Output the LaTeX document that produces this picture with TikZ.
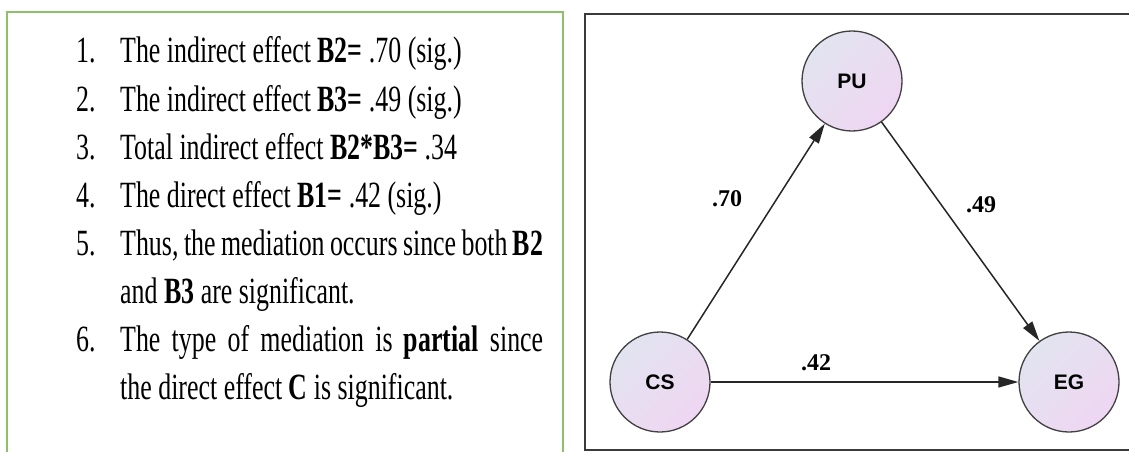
\documentclass[tikz,border=0pt]{standalone}
\usepackage{fontspec}
\setmainfont{Liberation Serif}
\newfontfamily\listfont[FakeStretch=0.70]{Liberation Serif}
\newfontfamily\labsans{Liberation Sans}
\usetikzlibrary{arrows.meta}
\definecolor{boxgreen}{HTML}{8CC06A}
\definecolor{boxgray}{HTML}{3A3A3A}
\definecolor{shadeA}{HTML}{E2E4F0}
\definecolor{shadeB}{HTML}{EFD6F2}
\tikzset{
  listnum/.style={anchor=base west, inner sep=0pt, font=\listfont\fontsize{37}{48}\selectfont},
  listtext/.style={anchor=base west, inner sep=0pt, font=\listfont\fontsize{37}{48}\selectfont},
  latent/.style={circle, draw=black!75, line width=1.3pt, minimum size=100pt, inner sep=0pt,
    shading=axis, top color=shadeA, bottom color=shadeB, shading angle=45,
    font=\labsans\bfseries\fontsize{21}{21}\selectfont},
  edge/.style={draw=black!85, line width=1.5pt, -{Triangle[length=20pt,width=11pt]}},
  coef/.style={inner sep=0pt, font=\bfseries\fontsize{24}{24}\selectfont}
}
\begin{document}
\begin{tikzpicture}[x=1pt,y=-1pt]
\useasboundingbox (0,0) rectangle (1129,452);
\clip (0,0) rectangle (1129,452);
% frames
\draw[boxgreen, line width=1.6pt] (7,470) -- (7,12) -- (563,12) -- (563,470);
\draw[boxgray, line width=1.8pt] (1140,14) -- (585,14) -- (585,450) -- (1140,450);
% list
\node[listnum] (n1) at (76,63) {1.};
\node[listtext] (t1) at (120,63) {The indirect effect \textbf{B2=} .70 (sig.)};
\node[listnum] (n2) at (76,111) {2.};
\node[listtext] (t2) at (120,111) {The indirect effect \textbf{B3=} .49 (sig.)};
\node[listnum] (n3) at (76,159) {3.};
\node[listtext] (t3) at (120,159) {Total indirect effect \textbf{B2*B3=} .34};
\node[listnum] (n4) at (76,207) {4.};
\node[listtext] (t4) at (120,207) {The direct effect \textbf{B1=} .42 (sig.)};
\node[listnum] (n5) at (76,255) {5.};
\node[listtext] (t5) at (120,255) {\makebox[423pt][s]{Thus, the mediation occurs since both \textbf{B2}}};
\node[listtext] (t5b) at (120,303) {and \textbf{B3} are significant.};
\node[listnum] (n6) at (76,351) {6.};
\node[listtext] (t6) at (120,351) {\makebox[423pt][s]{The type of mediation is \textbf{partial} since}};
\node[listtext] (t6b) at (120,399) {the direct effect \textbf{C} is significant.};
% diagram
\node[latent] (pu) at (852,81) {PU};
\node[latent] (cs) at (660,382) {CS};
\node[latent] (eg) at (1069,382) {EG};
\draw[edge] (cs) -- (pu);
\draw[edge] (pu) -- (eg);
\draw[edge] (cs) -- (eg);
\node[coef] (l70) at (727,199) {.70};
\node[coef] (l49) at (981,205) {.49};
\node[coef] (l42) at (816,363) {.42};
\end{tikzpicture}
\end{document}
